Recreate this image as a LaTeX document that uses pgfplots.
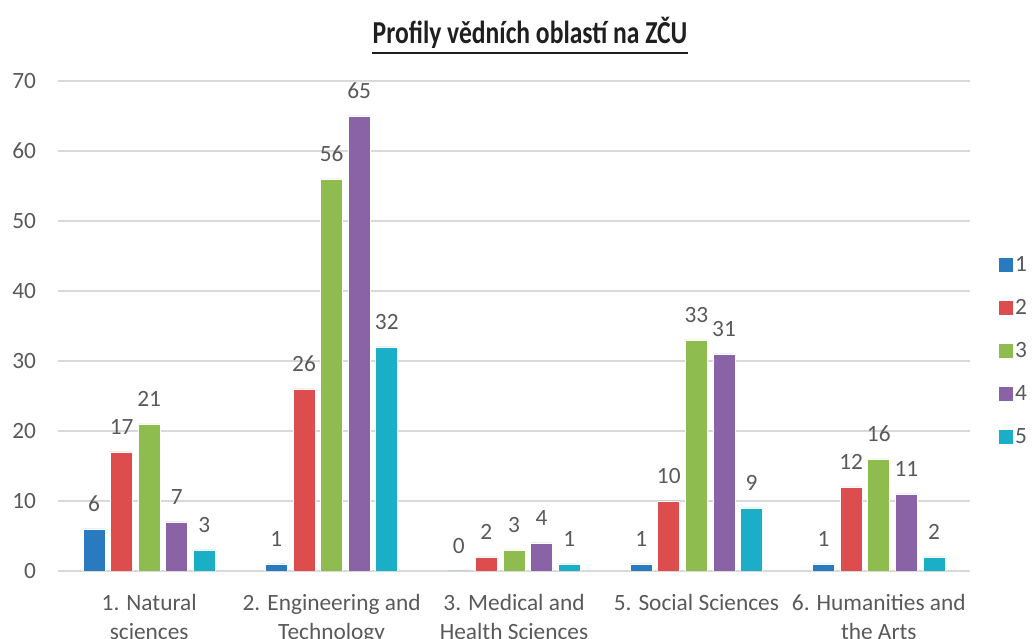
\documentclass[border=0pt]{standalone}
\usepackage{pgfplots}
\pgfplotsset{compat=1.18}
\usepackage{fontspec}
\setmainfont{Carlito}
\newfontfamily\titlefont[FakeStretch=0.80]{Carlito}
\definecolor{txt}{HTML}{595959}
\definecolor{gridc}{HTML}{D9D9D9}
\definecolor{c1}{HTML}{2A7ABF}
\definecolor{c2}{HTML}{DE4D4D}
\definecolor{c3}{HTML}{8FBC4F}
\definecolor{c4}{HTML}{8A63A6}
\definecolor{c5}{HTML}{1AAFC7}
\begin{document}
\begin{tikzpicture}
\useasboundingbox (0,0) rectangle (774pt,479.25pt);
\begin{axis}[
  at={(43.5pt,51pt)}, anchor=south west,
  scale only axis, width=684pt, height=367.5pt,
  xmin=-0.5, xmax=4.5, ymin=0, ymax=70,
  ybar=4.2pt, bar width=16.5pt,
  axis line style={draw=none},
  major tick length=0pt,
  ytick={0,10,...,70},
  ymajorgrids, grid style={gridc, line width=0.9pt},
  xtick={0,1,2,3,4},
  xticklabels={{1. Natural\\sciences},{2. Engineering and\\Technology},{3. Medical and\\Health Sciences},{5. Social Sciences},{6. Humanities and\\the Arts}},
  xticklabel style={align=center, font=\fontsize{17.5}{21.5}\selectfont, text=txt, anchor=north, yshift=-14pt},
  yticklabel style={font=\fontsize{17.5}{21}\selectfont, text=txt, xshift=-13pt},
  /pgf/number format/assume math mode=true,
  nodes near coords,
  nodes near coords style={font=\fontsize{17.5}{21}\selectfont, text=txt, anchor=center, yshift=19pt},
  every axis plot/.append style={draw=white, line width=0.6pt},
  legend style={at={(1.031,0.449)}, anchor=west, draw=none, fill=none,
    font=\fontsize{17.5}{21}\selectfont, text=txt, row sep=15.5pt, inner sep=0pt},
  legend cell align=left,
  legend image code/.code={\fill[#1, draw=none] (0pt,-5.25pt) rectangle (10.5pt,5.25pt);},
]
\addplot[fill=c1] coordinates {(0,6)(1,1)(2,0)(3,1)(4,1)};
\addplot[fill=c2] coordinates {(0,17)(1,26)(2,2)(3,10)(4,12)};
\addplot[fill=c3] coordinates {(0,21)(1,56)(2,3)(3,33)(4,16)};
\addplot[fill=c4] coordinates {(0,7)(1,65)(2,4)(3,31)(4,11)};
\addplot[fill=c5] coordinates {(0,3)(1,32)(2,1)(3,9)(4,2)};
\legend{1,2,3,4,5}
\end{axis}
\node[font=\titlefont\bfseries\fontsize{24}{28}\selectfont, text=black!88, inner sep=0pt] (t) at (397.5pt,454.5pt) {Profily vědních oblastí na ZČU};
\draw[black!88, line width=1.3pt] ([yshift=-3pt]t.south west) -- ([yshift=-3pt]t.south east);
\end{tikzpicture}
\end{document}
